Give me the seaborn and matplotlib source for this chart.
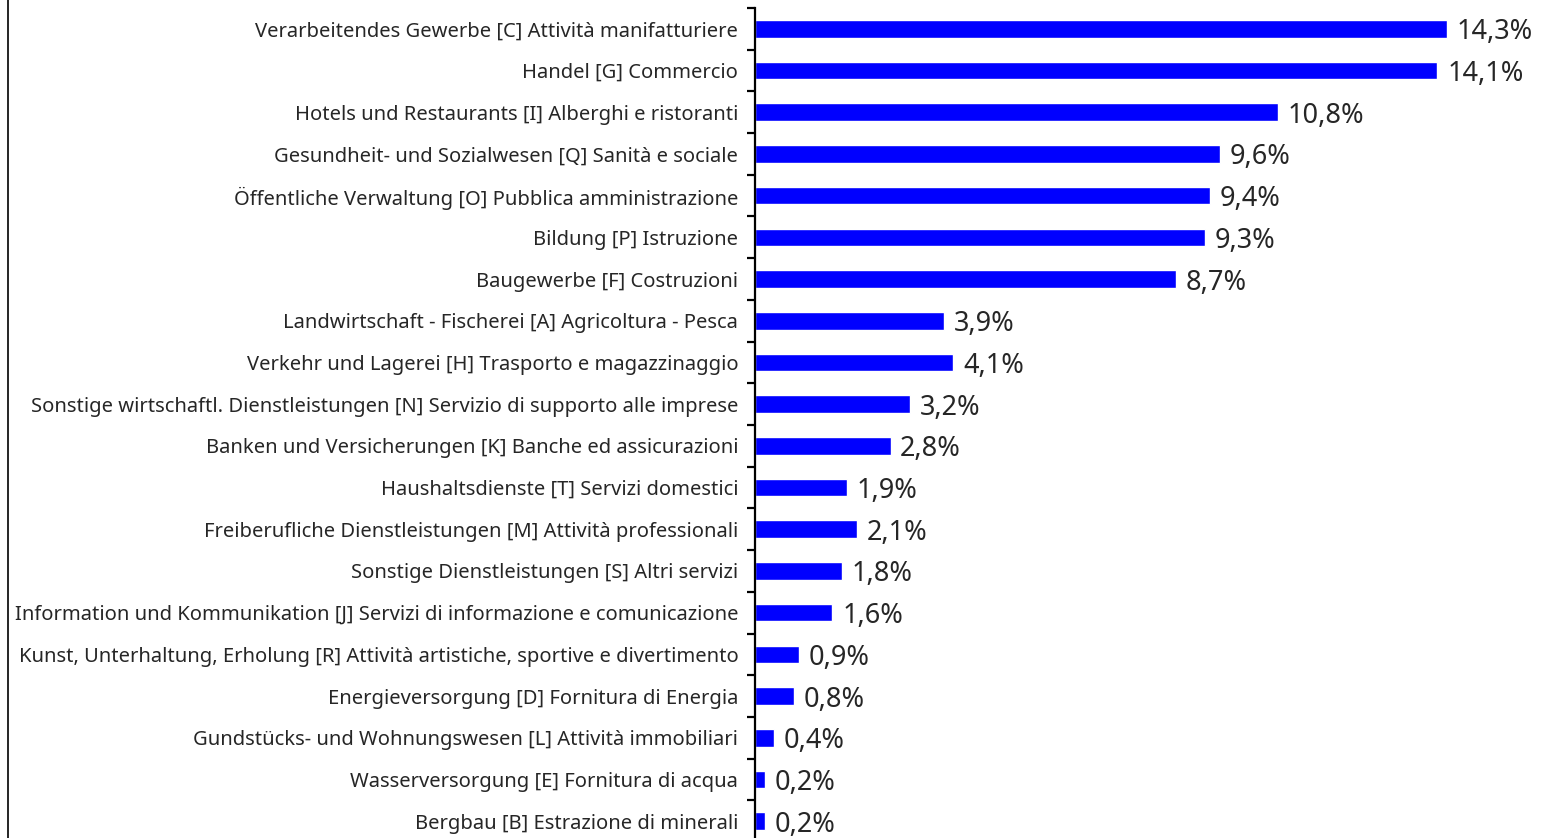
import matplotlib
matplotlib.use("Agg")
import matplotlib.pyplot as plt
import seaborn as sns
from matplotlib.lines import Line2D
from matplotlib.ticker import FixedLocator

categories = [
    "Verarbeitendes Gewerbe [C] Attività manifatturiere",
    "Handel [G] Commercio",
    "Hotels und Restaurants [I] Alberghi e ristoranti",
    "Gesundheit- und Sozialwesen [Q] Sanità e sociale",
    "Öffentliche Verwaltung [O] Pubblica amministrazione",
    "Bildung [P] Istruzione",
    "Baugewerbe [F] Costruzioni",
    "Landwirtschaft - Fischerei [A] Agricoltura - Pesca",
    "Verkehr und Lagerei [H] Trasporto e magazzinaggio",
    "Sonstige wirtschaftl. Dienstleistungen [N] Servizio di supporto alle imprese",
    "Banken und Versicherungen [K] Banche ed assicurazioni",
    "Haushaltsdienste [T] Servizi domestici",
    "Freiberufliche Dienstleistungen [M] Attività professionali",
    "Sonstige Dienstleistungen [S] Altri servizi",
    "Information und Kommunikation [J] Servizi di informazione e comunicazione",
    "Kunst, Unterhaltung, Erholung [R] Attività artistiche, sportive e divertimento",
    "Energieversorgung [D] Fornitura di Energia",
    "Gundstücks- und Wohnungswesen [L] Attività immobiliari",
    "Wasserversorgung [E] Fornitura di acqua",
    "Bergbau [B] Estrazione di minerali",
]
shares = [14.3, 14.1, 10.8, 9.6, 9.4, 9.3, 8.7, 3.9, 4.1, 3.2,
          2.8, 1.9, 2.1, 1.8, 1.6, 0.9, 0.8, 0.4, 0.2, 0.2]

sns.set_style("white")
plt.rcParams["font.family"] = ["Noto Sans", "DejaVu Sans"]

W, H = 1541, 838
fig = plt.figure(figsize=(W / 100, H / 100), dpi=100)
ax = fig.add_axes([755 / W, 0, 1 - 755 / W, 1 - 8 / H])

sns.barplot(x=shares, y=categories, orient="h", color="#0000FF",
            saturation=1, width=0.42, ax=ax)

ax.set_xlim(0, (W - 755) / 48.4)
ax.set_ylim(-0.5 + 830 / 41.7, -0.5)

for side in ["top", "right", "bottom"]:
    ax.spines[side].set_visible(False)
ax.spines["left"].set_linewidth(1.6)
ax.spines["left"].set_color("black")

ax.set_xticks([])
ax.tick_params(axis="y", which="major", length=0, pad=12, labelsize=14.5)
ax.yaxis.set_minor_locator(FixedLocator([k - 0.5 for k in range(len(categories) + 1)]))
ax.tick_params(axis="y", which="minor", length=6, width=1.6, color="black", left=True)
ax.set_xlabel("")
ax.set_ylabel("")

# value labels, slightly below centre like the original
for i, v in enumerate(shares):
    ax.annotate(f"{v:.1f}%".replace(".", ","), xy=(v, i), xytext=(7, 0),
                textcoords="offset points", ha="left", va="center_baseline",
                fontsize=19.5, annotation_clip=False)

fig.add_artist(Line2D([8 / W, 8 / W], [0, 1], color="black", lw=1.2))

fig.savefig("out.png", dpi=100)
